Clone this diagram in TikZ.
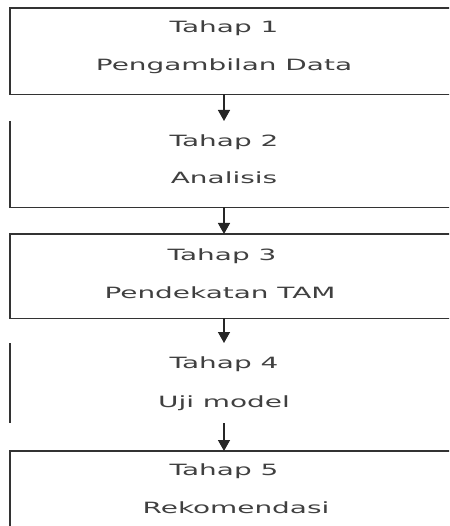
\documentclass[tikz,border=0pt]{standalone}
\usepackage{fontspec}
\newfontfamily\widefont[FakeStretch=1.8]{DejaVu Sans}
\usetikzlibrary{arrows.meta}
\begin{document}
\begin{tikzpicture}[x=1pt,y=-1pt,
  edge/.style={line width=1.7pt, draw=black!80},
  lbl/.style={anchor=base, inner sep=0pt, font=\widefont\fontsize{15.5}{18}\selectfont, text=black!75},
  arr/.style={line width=1.4pt, draw=black!85, -{Triangle[width=12pt,length=11pt]}},
  boxarea/.style={rectangle, inner sep=0pt, minimum width=470pt, anchor=north west}]
\useasboundingbox (0,0) rectangle (449,526);
\clip (0,0) rectangle (449,526);
% box areas
\node[boxarea, minimum height=86pt] (b1) at (10,8) {};
\node[boxarea, minimum height=86pt] (b2) at (10,121) {};
\node[boxarea, minimum height=84pt] (b3) at (10,234) {};
\node[boxarea, minimum height=80pt] (b4) at (10,343) {};
\node[boxarea, minimum height=90pt] (b5) at (10,451) {};
% visible borders
\draw[edge] (b1.north east) -- (b1.north west) -- (b1.south west) -- (b1.south east);
\draw[edge] (b2.north west) -- (b2.south west) -- (b2.south east);
\draw[edge] (b3.north east) -- (b3.north west) -- (b3.south west) -- (b3.south east);
\draw[edge] (b4.north west) -- (b4.south west);
\draw[edge] (b5.north east) -- (b5.north west) -- (b5.south west);
% labels
\node[lbl] (t1a) at (224,33) {Tahap 1};
\node[lbl] (t1b) at (224,71) {Pengambilan Data};
\node[lbl] (t2a) at (224,147) {Tahap 2};
\node[lbl] (t2b) at (224,184) {Analisis};
\node[lbl] (t3a) at (222,260) {Tahap 3};
\node[lbl] (t3b) at (220,298) {Pendekatan TAM};
\node[lbl] (t4a) at (224,368) {Tahap 4};
\node[lbl] (t4b) at (224,407) {Uji model};
\node[lbl] (t5a) at (224,475) {Tahap 5};
\node[lbl] (t5b) at (236,513) {Rekomendasi};
% arrows
\draw[arr] (t1a |- b1.south) -- (t1a |- b2.north);
\draw[arr] (t2a |- b2.south) -- (t2a |- b3.north);
\draw[arr] (t4a |- b3.south) -- (t4a |- b4.north);
\draw[arr] (t4a |- b4.south) -- (t4a |- b5.north);
\end{tikzpicture}
\end{document}
